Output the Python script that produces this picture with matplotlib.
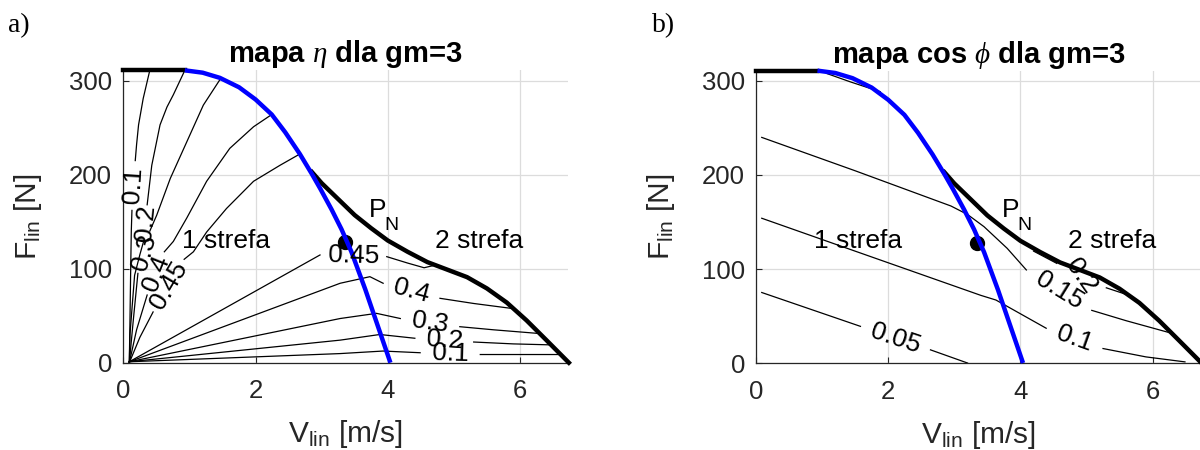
import numpy as np
import matplotlib.pyplot as plt

plt.rcParams['font.family'] = ['Liberation Sans', 'DejaVu Sans']
plt.rcParams['mathtext.fontset'] = 'custom'
plt.rcParams['mathtext.rm'] = 'Liberation Sans'
plt.rcParams['mathtext.it'] = 'Liberation Serif:italic'
plt.rcParams['mathtext.bf'] = 'Liberation Sans:bold'

# operating limits (same motor in both maps)
f_max = 311
top_v = [0.0, 0.93]
top_f = [f_max, f_max]
zone1_v = [0.93, 1.2, 1.46, 1.75, 2.0, 2.245, 2.45, 2.67, 2.85, 2.98, 3.15, 3.30, 3.45, 3.66, 3.85, 4.04]
zone1_f = [311, 308.5, 303, 293, 280, 264, 245, 222, 201, 185, 163, 142, 118, 78, 39, 0]
zone2_v = [2.85, 3.0, 3.25, 3.5, 3.75, 4.0, 4.3, 4.6, 4.9, 5.2, 5.5, 5.8, 6.1, 6.4, 6.74]
zone2_f = [203, 191, 174, 157, 143, 130, 118, 107, 99, 91, 79, 64, 45, 24, 0]
pn_v, pn_f = 3.35, 128

nan = np.nan

# efficiency contours, nan = gap for the level label
eta_levels = ['0.1', '0.2', '0.3', '0.4', '0.45']
eta_up_v = [
    [0.09, 0.10, 0.11, 0.12, 0.13, nan, 0.18, 0.20, 0.23, 0.30, 0.40],
    [0.09, 0.10, 0.17, 0.25, 0.31, nan, 0.36, 0.43, 0.555, 0.66, 0.756, 0.93],
    [0.09, 0.15, 0.22, nan, 0.40, 0.505, 0.71, 0.96, 1.21, 1.46],
    [0.09, 0.20, 0.36, nan, 0.62, 0.756, 0.96, 1.26, 1.61, 1.97, 2.245],
    [0.09, 0.25, 0.45, nan, 0.92, 1.06, 1.26, 1.56, 1.97, 2.37, 2.67],
]
eta_up_f = [
    [0, 45, 95, 140, 162, nan, 215, 232, 253, 281, 311],
    [0, 30, 93, 115, 130, nan, 168, 210, 253, 272, 285, 311],
    [0, 45, 95, nan, 140, 157, 196, 235, 274, 301],
    [0, 35, 72, nan, 118, 129, 154, 193, 228, 251, 264],
    [0, 27, 54, nan, 110, 118, 139, 164, 193, 210, 222],
]
eta_low_v = [
    [0.09, 3.28, 3.93, 4.49, nan, 5.4, 6.0, 6.62],
    [0.09, 3.28, 3.88, 4.41, nan, 5.3, 5.9, 6.45],
    [0.09, 3.28, 3.83, 4.19, nan, 5.09, 5.6, 6.3],
    [0.09, 3.28, 3.73, 3.93, nan, 4.79, 5.3, 5.9],
    [0.09, 2.975, nan, 3.985, 4.3, 4.55, 4.7],
]
eta_low_f = [
    [1, 9.7, 12.4, 10.6, nan, 8.7, 8.7, 8.7],
    [1, 24, 30, 26, nan, 22, 20, 19],
    [1, 47, 52.5, 47, nan, 38.3, 35, 31],
    [1, 84.5, 91.5, 84.5, nan, 68.5, 63, 57.5],
    [1, 114.6, nan, 112.8, 106, 101, 103.5],
]

# power factor contours
cos_levels = ['0.05', '0.1', '0.15', '0.2']
cos_v = [
    [0.087, 1.58, nan, 2.64, 3.2],
    [0.087, 1.5, 3.4, 3.63, 4.39, nan, 5.25, 5.9, 6.49],
    [0.087, 1.5, 2.95, 3.2, 3.45, 3.8, 4.09, nan, 5.08, 5.6, 6.27],
    [4.2, 4.55, nan, 5.3, 5.6],
]
cos_f = [
    [75, 39, nan, 14, 0],
    [154, 119, 72, 67, 37, nan, 15.4, 6.5, 1.2],
    [240, 204.5, 167, 158, 145, 122, 99, nan, 56, 45, 32],
    [119, 106, nan, 80, 73],
]
cos_rot = [None, None, None, -55]
cos_top_v = [1.07, 1.43, 1.88]
cos_top_f = [308, 299, 288.6]

GRAY = '#262626'


def draw_level(ax, v, f, label, rot=None):
    v = np.asarray(v, float)
    f = np.asarray(f, float)
    ax.plot(v, f, color='k', lw=0.9, zorder=2)
    i = int(np.flatnonzero(np.isnan(v))[0])
    a = np.array([v[i - 1], f[i - 1]])
    b = np.array([v[i + 1], f[i + 1]])
    mid = (a + b) / 2
    if rot is None:
        pa, pb = ax.transData.transform([a, b])
        d = pb - pa
        rot = np.degrees(np.arctan2(d[1], d[0]))
        if rot > 90:
            rot -= 180
        elif rot < -90:
            rot += 180
    ax.text(mid[0], mid[1], label, fontsize=19, rotation=rot,
            rotation_mode='anchor', ha='center', va='center', zorder=5)


def setup(ax, title):
    ax.set_xlim(0, 6.73)
    ax.set_ylim(0, f_max)
    ax.set_xticks([0, 2, 4, 6])
    ax.set_yticks([0, 100, 200, 300])
    ax.grid(True, color='#dcdcdc', lw=0.9)
    ax.set_axisbelow(True)
    for s in ['top', 'right']:
        ax.spines[s].set_visible(False)
    for s in ['left', 'bottom']:
        ax.spines[s].set_color(GRAY)
        ax.spines[s].set_linewidth(0.9)
    ax.tick_params(labelsize=18.5, colors=GRAY, direction='in', length=4)
    ax.tick_params(axis='x', pad=12)
    ax.tick_params(axis='y', pad=8)
    ax.set_xlabel(r'V$_\mathrm{lin}$ [m/s]', fontsize=21.5, color=GRAY)
    ax.set_ylabel(r'F$_\mathrm{lin}$ [N]', fontsize=21.5, color=GRAY)
    ax.xaxis.set_label_coords(0.5, -0.19)
    ax.yaxis.set_label_coords(-0.178, 0.5)
    ax.set_title(title, fontsize=21, fontweight='bold', pad=4)


def draw_limits(ax):
    ax.plot(zone2_v, zone2_f, color='k', lw=3.2, zorder=3, clip_on=False)
    ax.plot(top_v, top_f, color='k', lw=3.2, zorder=3, clip_on=False)
    ax.plot(pn_v, pn_f, 'o', color='k', ms=10, zorder=4)
    ax.plot(zone1_v, zone1_f, color='#0000ff', lw=3.2, zorder=4,
            solid_capstyle='butt', clip_on=False)
    ax.text(0.88, 122, '1 strefa', fontsize=19, zorder=6)
    ax.text(4.72, 122, '2 strefa', fontsize=19, zorder=6)
    ax.text(3.72, 155, 'P', fontsize=19, zorder=6)
    ax.text(3.95, 141, 'N', fontsize=14, zorder=6)


fig = plt.figure(figsize=(12, 4.5), dpi=100)
ax1 = fig.add_axes([0.1028, 0.194, 0.3707, 0.6497])
ax2 = fig.add_axes([0.63, 0.1933, 0.3707, 0.6497])

setup(ax1, r'mapa $\eta$ dla gm=3')
setup(ax2, r'mapa cos $\phi$ dla gm=3')

for lab, v, f in zip(eta_levels, eta_up_v, eta_up_f):
    draw_level(ax1, v, f, lab)
for lab, v, f in zip(eta_levels, eta_low_v, eta_low_f):
    draw_level(ax1, v, f, lab)
draw_limits(ax1)

for lab, v, f, r in zip(cos_levels, cos_v, cos_f, cos_rot):
    draw_level(ax2, v, f, lab, r)
ax2.plot(cos_top_v, cos_top_f, color='k', lw=0.9, zorder=2)
draw_limits(ax2)

fig.text(0.007, 0.97, 'a)', fontsize=20, family='Liberation Serif', va='top')
fig.text(0.543, 0.97, 'b)', fontsize=20, family='Liberation Serif', va='top')

fig.savefig('out.png', dpi=100)
